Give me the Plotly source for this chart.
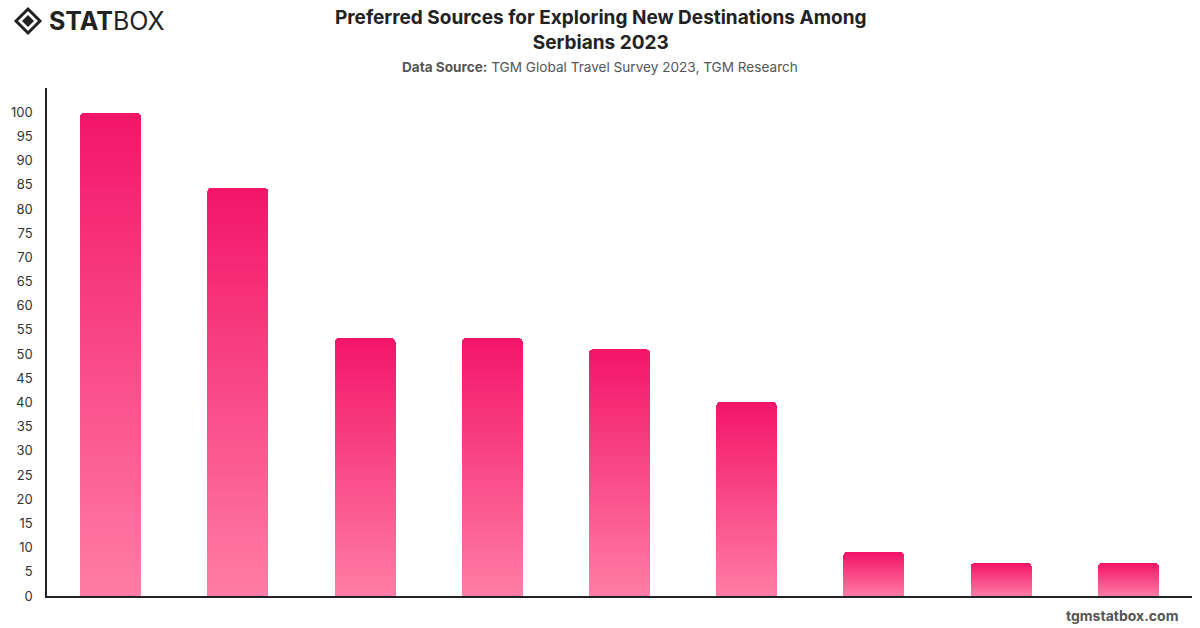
import plotly.graph_objects as go

categories = ["Source 1", "Source 2", "Source 3", "Source 4", "Source 5",
              "Source 6", "Source 7", "Source 8", "Source 9"]
values = [99.8, 84.3, 53.3, 53.3, 51.0, 40.1, 8.9, 6.8, 6.8]
y_ticks = list(range(0, 105, 5))

TOP = (243, 22, 104)
BOTTOM = (255, 124, 166)
N_SEG = 100

fig = go.Figure()
for k in range(N_SEG):
    t = k / (N_SEG - 1)  # 0 bottom -> 1 top
    c = tuple(round(BOTTOM[i] + (TOP[i] - BOTTOM[i]) * t) for i in range(3))
    fig.add_trace(go.Bar(
        x=categories,
        y=[v / N_SEG for v in values],
        marker=dict(color="rgb(%d,%d,%d)" % c, line=dict(width=0)),
        showlegend=False,
        hoverinfo="skip",
    ))

fig.update_layout(
    barmode="stack",
    barcornerradius=4,
    width=1200, height=628,
    margin=dict(l=47, r=8, t=88, b=32),
    paper_bgcolor="white", plot_bgcolor="white",
    font=dict(family="Inter, Roboto, sans-serif", color="#333"),
    bargap=0.52,
)
fig.update_xaxes(showticklabels=False, showgrid=False, zeroline=False,
                 showline=True, linecolor="#222", linewidth=1.5, ticks="")
fig.update_yaxes(range=[0, 105], tickvals=y_ticks, showgrid=False, zeroline=False,
                 showline=True, linecolor="#222", linewidth=1.5, ticks="",
                 tickfont=dict(size=13, color="#333"), ticklabelstandoff=10)


def paper_x(px):
    return (px - 47) / (1200 - 47 - 8)


def paper_y(py):
    return (596 - py) / (596 - 88)


def ann2(text, px, py, size, color, xanchor="center", yanchor="middle"):
    fig.add_annotation(text=text, x=paper_x(px), y=paper_y(py), xref="paper", yref="paper",
                       xanchor=xanchor, yanchor=yanchor, showarrow=False,
                       font=dict(size=size, color=color, family="Inter, Roboto, sans-serif"),
                       align="center")


ann2("<b>Preferred Sources for Exploring New Destinations Among<br>Serbians 2023</b>",
     600, 30, 19, "#222")
ann2("<b>Data Source:</b> TGM Global Travel Survey 2023, TGM Research", 600, 67, 13.6, "#555")
ann2("<b>tgmstatbox.com</b>", 1180, 615, 14, "#555", xanchor="right")
ann2("<b>STAT</b>BOX", 47, 21, 25, "#222", xanchor="left")

# logo diamond icon
fig.add_shape(type="path", xref="paper", yref="paper",
              path="M %f,%f L %f,%f L %f,%f L %f,%f Z" % (
                  paper_x(16), paper_y(21), paper_x(28), paper_y(9),
                  paper_x(40), paper_y(21), paper_x(28), paper_y(33)),
              line=dict(color="#222", width=3), fillcolor="white")
fig.add_shape(type="path", xref="paper", yref="paper",
              path="M %f,%f L %f,%f L %f,%f L %f,%f Z" % (
                  paper_x(22), paper_y(21), paper_x(28), paper_y(15),
                  paper_x(34), paper_y(21), paper_x(28), paper_y(27)),
              line=dict(color="#222", width=0), fillcolor="#222")

fig.write_html("out.html")
